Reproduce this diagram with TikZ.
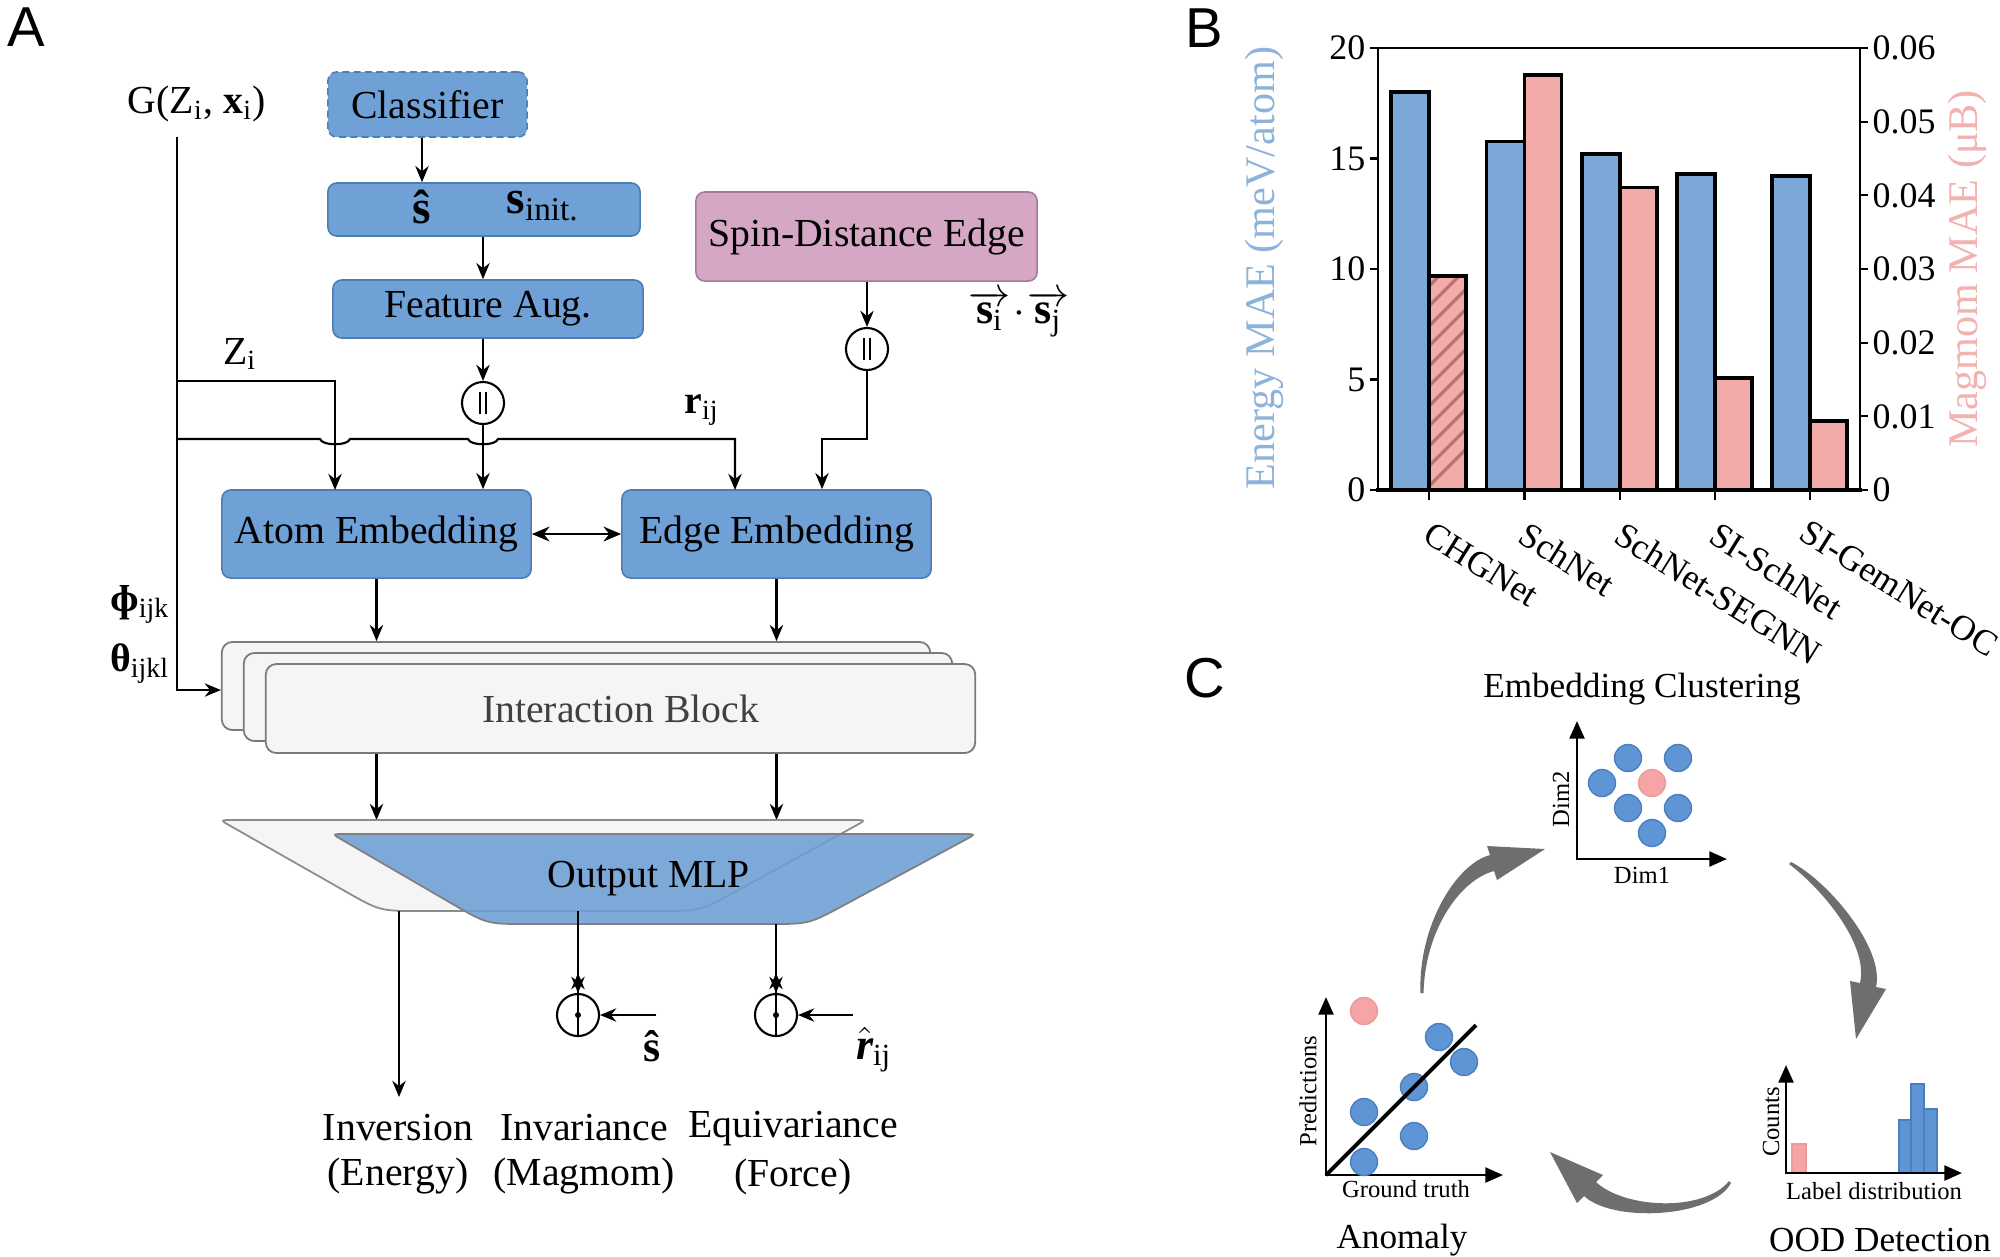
\documentclass[tikz,border=0pt]{standalone}
\usepackage{fontspec}
\setmainfont{Liberation Serif}
\newfontfamily\panelfont{Liberation Sans}
\usetikzlibrary{arrows.meta}
\newcommand\mainsz{\fontsize{11.3}{13.5}\selectfont}
\definecolor{boxblue}{HTML}{6FA0D6}
\definecolor{boxblueedge}{HTML}{4E7DB3}
\definecolor{boxpink}{HTML}{D5A7C5}
\definecolor{boxpinkedge}{HTML}{A57A98}
\definecolor{blockfill}{HTML}{F5F5F5}
\definecolor{blockedge}{HTML}{7A7A7A}
\definecolor{inttext}{HTML}{404040}
\definecolor{mlpblue}{HTML}{6D9FD6}
\definecolor{barblue}{HTML}{7BA8D7}
\definecolor{barpink}{HTML}{F2ABA9}
\definecolor{hatchcol}{HTML}{B87272}
\definecolor{lblblue}{HTML}{8DB3DB}
\definecolor{lblpink}{HTML}{F2B3B0}
\definecolor{dotblue}{HTML}{5F95D4}
\definecolor{dotblueedge}{HTML}{4A7FC0}
\definecolor{dotpink}{HTML}{F5A5A5}
\definecolor{dotpinkedge}{HTML}{EE9A9A}
\definecolor{cyclegray}{HTML}{6E6E6E}
\tikzset{
  bx/.style={draw=boxblueedge, fill=boxblue, rounded corners=2.5pt, line width=0.45pt, inner sep=0pt, font=\mainsz},
  txt/.style={inner sep=0pt, font=\mainsz},
  blk/.style={draw=blockedge, fill=blockfill, rounded corners=3pt, line width=0.5pt, inner sep=0pt, font=\mainsz},
  arr/.style={-{Stealth[length=4.6pt,width=3.8pt]}, line width=0.6pt},
  darr/.style={{Stealth[length=5pt,width=4.2pt]}-{Stealth[length=5pt,width=4.2pt]}, line width=0.75pt},
  concat/.style={circle, draw, fill=white, minimum size=0.42cm, inner sep=0pt, line width=0.6pt},
  panel/.style={inner sep=0pt, font=\panelfont\fontsize{16}{18}\selectfont},
  tick/.style={inner sep=0pt, font=\fontsize{10.2}{12}\selectfont},
  cat/.style={inner sep=0pt, anchor=north west, rotate=-32, font=\fontsize{10.1}{12}\selectfont},
  bar/.style={draw=black, line width=1pt},
  ctitle/.style={inner sep=0pt, font=\fontsize{10}{12}\selectfont},
  small/.style={inner sep=0pt, font=\fontsize{7}{8}\selectfont},
  axarr/.style={line width=0.8pt, {Triangle[length=5pt,width=4.2pt]}-{Triangle[length=5pt,width=4.2pt]}},
  bdot/.style={fill=dotblue, draw=dotblueedge, line width=0.4pt},
  pdot/.style={fill=dotpink, draw=dotpinkedge, line width=0.4pt},
}
\begin{document}
\begin{tikzpicture}[x=0.01cm,y=-0.01cm]
\useasboundingbox (0,0) rectangle (2000,1256);
\fill[white] (0,0) rectangle (2000,1256);

% ---------------- panel labels
\node[panel] (lA) at (26,27) {A};
\node[panel] (lB) at (1204,28) {B};
\node[panel] (lC) at (1205,678) {C};

% ---------------- Panel A
\node[txt] (G) at (197,104) {G(Z\textsubscript{i}, \textbf{x}\textsubscript{i})};
\node[bx, dash pattern=on 2pt off 1.2pt, minimum width=1.99cm, minimum height=0.65cm] (clf) at (427.5,104.5) {Classifier};
\node[bx, minimum width=3.12cm, minimum height=0.53cm] (sb) at (484,209.5) {};
\node[txt, font=\fontsize{13.5}{15}\selectfont\bfseries] (shat) at (422,207) {ŝ};
\node[txt, font=\fontsize{13.5}{15}\selectfont] (sinit) at (543,206) {\textbf{s}\textsubscript{init.}};
\node[bx, minimum width=3.10cm, minimum height=0.58cm] (feat) at (488,309) {Feature Aug.};
\node[bx, fill=boxpink, draw=boxpinkedge, minimum width=3.41cm, minimum height=0.89cm] (spin) at (866.5,236.5) {Spin-Distance Edge};
\node[txt, font=\fontsize{12.5}{15}\selectfont] (sisj) at (1019,314) {$\overrightarrow{\mbox{\textbf{s}\textsubscript{i}}}\!\cdot\!\overrightarrow{\mbox{\textbf{s}\textsubscript{j}}}$};
\node[concat] (c1) at (483,403) {};
\node[concat] (c2) at (867,349) {};
\draw[line width=0.5pt] (480,392) -- (480,414) (486,392) -- (486,414);
\draw[line width=0.5pt] (864,338) -- (864,360) (870,338) -- (870,360);
\node[bx, minimum width=3.09cm, minimum height=0.88cm] (atom) at (376.5,534) {Atom Embedding};
\node[bx, minimum width=3.09cm, minimum height=0.88cm] (edge) at (776.5,534) {Edge Embedding};
\node[txt] (zi) at (240,354) {Z\textsubscript{i}};
\node[txt] (rij) at (702,410) {\textbf{r}\textsubscript{ij}};
\node[txt] (phi) at (140,604) {\textbf{ɸ}\textsubscript{ijk}};
\node[txt] (theta) at (140,664) {\textbf{θ}\textsubscript{ijkl}};

\draw[arr] (clf.south -| shat) -- (sb.north -| shat);
\draw[arr] (sb.south -| c1) -- (feat.north -| c1);
\draw[arr] (feat.south -| c1) -- (c1.north);
\draw[arr] (spin.south -| c2) -- (c2.north);
\draw[arr] (c1.south) -- (atom.north -| c1);
\coordinate (rj) at (822,439);
\draw[arr] (c2.south) |- (rj) -- (rj |- edge.north);
\coordinate (vtop) at (177,137);
\coordinate (vl) at (177,690);
\coordinate (zl) at (177,381);
\coordinate (zdown) at (335,490);
\draw[arr] (zl) -| (zdown);
\coordinate (rl) at (177,439);
\coordinate (rdown) at (735,490);
\draw[arr] (rl) -- (320,439) .. controls (322,446) and (348,446) .. (350,439) -- (468,439) .. controls (470,446) and (496,446) .. (498,439) -| (rdown);
\draw[darr] (atom.east) -- (edge.west);

% interaction blocks
\node[blk, minimum width=7.08cm, minimum height=0.88cm] (ib3) at (576,686) {};
\node[blk, minimum width=7.08cm, minimum height=0.88cm] (ib2) at (598,697) {};
\node[blk, minimum width=7.09cm, minimum height=0.89cm, text=inttext] (ib) at (620.5,708.5) {Interaction Block};
\draw[arr] (vtop) -- (vl) -- (ib3.west |- vl);
\draw[arr] (atom.south) -- (atom.south |- ib3.north);
\draw[arr] (edge.south) -- (edge.south |- ib3.north);
\coordinate (mlptop) at (0,820);
\draw[arr] (ib.south -| atom.south) -- (atom.south |- mlptop);
\draw[arr] (ib.south -| edge.south) -- (edge.south |- mlptop);

% output MLP
\draw[draw=black!45, fill=blockfill, line width=0.5pt]
  (233,820) -- (853,820) .. controls (866,820) .. (854.6,826.3) -- (735,891.8) .. controls (700,911) .. (660,911)
  -- (420,911) .. controls (380,911) .. (345.2,891.2) -- (231.3,826.4) .. controls (220,820) .. (233,820) -- cycle;
\draw[draw=black!50, fill=mlpblue, fill opacity=0.88, line width=0.5pt]
  (345,834) -- (963,834) .. controls (976,834) .. (964.5,840.2) -- (844.2,905) .. controls (809,924) .. (769,924)
  -- (527,924) .. controls (487,924) .. (452.4,903.9) -- (343.3,840.5) .. controls (332,834) .. (345,834) -- cycle;
\node[txt] (mlp) at (649,879) {Output MLP};

\node[concat] (o1) at (578,1015) {};
\node[concat] (o2) at (776,1015) {};
\fill (o1) circle[radius=3];
\fill (o2) circle[radius=3];
\coordinate (e1) at (399,911);
\coordinate (e1b) at (399,1097);
\coordinate (m1) at (578,911);
\coordinate (m2) at (776,924);
\coordinate (sh) at (656,1015);
\coordinate (rh) at (853,1015);
\draw[arr] (e1) -- (e1b);
\draw[arr] (m1) -- (o1.north);
\draw[arr] (m2) -- (o2.north);
\draw[arr] (o1.south) -- ++(0,-64);
\draw[arr] (o2.south) -- ++(0,-64);
\draw[arr] (sh) -- (o1.east);
\draw[arr] (rh) -- (o2.east);
\node[txt, font=\fontsize{12.5}{15}\selectfont\bfseries] (shat2) at (652,1046) {ŝ};
\node[txt, font=\fontsize{12.5}{15}\selectfont] (rhat) at (874,1050) {$\hat{\mbox{\bfseries\itshape r}}$\textsubscript{ij}};
\node[txt] (inv1) at (398,1128) {Inversion};
\node[txt] (inv2) at (398,1176) {(Energy)};
\node[txt] (ivr1) at (584,1128) {Invariance};
\node[txt] (ivr2) at (584,1176) {(Magmom)};
\node[txt] (eq1) at (793,1129) {Equivariance};
\node[txt] (eq2) at (793,1177) {(Force)};

% ---------------- Panel B
\foreach \gx/\bt/\pt in {1524.5/141.7/75, 1620/154/187.5, 1715/173.75/378, 1810/176/421} {
  \draw[bar, fill=barblue] (\gx-38,490) rectangle (\gx,\bt);
  \draw[bar, fill=barpink] (\gx,490) rectangle (\gx+37,\pt);
}
\draw[bar, fill=barblue] (1391,490) rectangle (1429,92);
\fill[barpink] (1429,490) rectangle (1466,276);
\begin{scope}
  \clip (1429,490) rectangle (1466,276);
  \foreach \k in {0,...,14} \draw[hatchcol, line width=0.9pt] (1410,505-\k*20) -- ++(90,-90);
\end{scope}
\draw[bar] (1429,490) rectangle (1466,276);

\draw[line width=0.6pt] (1378,490) -- (1378,48) -- (1860,48) -- (1860,490);
\draw[line width=1.4pt] (1376,490) -- (1862,490);
\foreach \v in {0,...,4} {
  \draw[line width=0.6pt] (1378,490-\v*110.5) -- (1370,490-\v*110.5);
  \pgfmathtruncatemacro\lab{5*\v}
  \node[tick, anchor=east] at (1366,490-\v*110.5) {\lab};
}
\foreach \k/\lab in {0/0, 1/0.01, 2/0.02, 3/0.03, 4/0.04, 5/0.05, 6/0.06} {
  \draw[line width=0.6pt] (1860,490-\k*73.67) -- (1868,490-\k*73.67);
  \node[tick, anchor=west] at (1872,490-\k*73.67) {\lab};
}
\foreach \gx in {1429, 1524.5, 1620, 1715, 1810} \draw[line width=0.6pt] (\gx,490) -- (\gx,500);
\node[cat] (cat1) at (1434,520) {CHGNet};
\node[cat] (cat2) at (1529.5,520) {SchNet};
\node[cat] (cat3) at (1625,520) {SchNet-SEGNN};
\node[cat] (cat4) at (1720,520) {SI-SchNet};
\node[cat] (cat5) at (1810,518) {SI-GemNet-OC};
\node[inner sep=0pt, rotate=90, text=lblblue, font=\fontsize{12}{14}\selectfont] (ylab) at (1264,268) {Energy MAE (meV/atom)};
\node[inner sep=0pt, rotate=90, text=lblpink, font=\fontsize{12}{14}\selectfont] (y2lab) at (1967,269) {Magmom MAE (μB)};

% ---------------- Panel C
\node[ctitle] (t1) at (1642,689) {Embedding Clustering};
\node[ctitle] (t2) at (1402,1240) {Anomaly};
\node[ctitle] (t3) at (1880,1240) {OOD Detection};

% top scatter
\draw[axarr] (1577,721) -- (1577,859) -- (1727,859);
\foreach \p in {(1628,758),(1678,758),(1602,783),(1628,808),(1678,808),(1652,833)} \draw[bdot] \p circle[radius=13.5];
\draw[pdot] (1652,783) circle[radius=13.5];
\node[small, rotate=90] (d2) at (1561,799) {Dim2};
\node[small] (d1) at (1642,875) {Dim1};

% anomaly
\draw[axarr] (1326,997) -- (1326,1175) -- (1503,1175);
\draw[pdot] (1364,1011) circle[radius=13.5];
\foreach \p in {(1439,1037),(1464,1062),(1414,1087),(1364,1112),(1414,1136),(1364,1162)} \draw[bdot] \p circle[radius=13.5];
\draw[line width=1.1pt] (1326,1175) -- (1476,1025);
\node[small, rotate=90] (pr) at (1308,1091) {Predictions};
\node[small] (gt) at (1406,1189) {Ground truth};

% OOD
\fill[dotpink, draw=dotpinkedge, line width=0.4pt] (1792,1144) rectangle (1806,1173);
\draw[fill=dotblue, draw=dotblueedge, line width=0.5pt] (1899,1120) rectangle (1911,1173);
\draw[fill=dotblue, draw=dotblueedge, line width=0.5pt] (1911,1084) rectangle (1924,1173);
\draw[fill=dotblue, draw=dotblueedge, line width=0.5pt] (1924,1109) rectangle (1937,1173);
\draw[axarr] (1786,1065) -- (1786,1173) -- (1962,1173);
\node[small, rotate=90] (cn) at (1771,1122) {Counts};
\node[small] (ld) at (1874,1191) {Label distribution};

% cycle arrows
\fill[cyclegray] (1420.5,993) .. controls (1418,926) and (1456,864) .. (1490,855) -- (1487,846) -- (1545,849) -- (1497,880) -- (1494,871) .. controls (1460,880) and (1425,930) .. (1423.5,993) -- cycle;
\fill[cyclegray] (1791,862) .. controls (1827,880) and (1885,948) .. (1876,987) -- (1886,989) -- (1856,1039) -- (1850,981) -- (1860,983) .. controls (1869,944) and (1821,888) .. (1789,864) -- cycle;
\fill[cyclegray] (1731,1183) .. controls (1712,1218) and (1613,1223) .. (1584,1196) -- (1577,1203) -- (1550,1152) -- (1603,1175) -- (1596,1182) .. controls (1625,1209) and (1704,1212) .. (1729,1181) -- cycle;
\end{tikzpicture}
\end{document}
